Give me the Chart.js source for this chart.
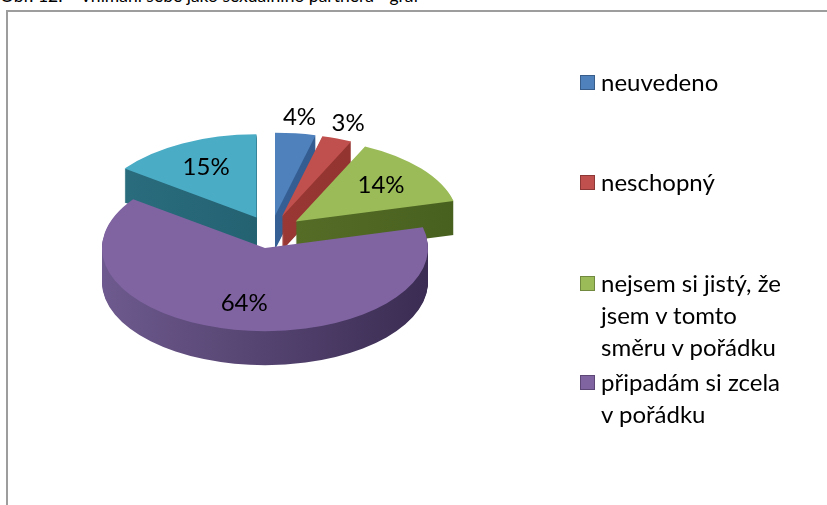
<!DOCTYPE html>
<html lang="cs">
<head>
<meta charset="utf-8">
<script src="https://cdn.jsdelivr.net/npm/chart.js@4.4.1/dist/chart.umd.min.js"></script>
<style>
	html, body { margin: 0; padding: 0; background: #fff; }
	body { width: 827px; height: 505px; position: relative; overflow: hidden; font-family: Lato, 'Open Sans', sans-serif; color: #000; }
	#frame { position: absolute; left: 6px; top: 10px; width: 900px; height: 600px; border: 2px solid #9d9d9d; }
	#title { position: absolute; left: 0; top: -15px; font-size: 17.5px; white-space: pre; }
	#title .rest { position: absolute; left: 80px; top: 0; }
	#pie { position: absolute; left: 0; top: 0; }
	.item { position: absolute; left: 580px; font-size: 24px; line-height: 32px; }
	.item i { position: absolute; left: 0; top: 9px; width: 13px; height: 13px; border: 1px solid; }
	.item span { position: absolute; left: 21px; top: 0; white-space: pre; }
</style>
</head>
<body>
<div id="frame"></div>
<div id="title">Obr. 12:<span class="rest">Vnímání sebe jako sexuálního partnera - graf</span></div>
<canvas id="pie" width="827" height="505"></canvas>
<div id="legend"></div>
<script>
const categories = [
	'neuvedeno',
	'neschopný',
	'nejsem si jistý, že\njsem v tomto\nsměru v pořádku',
	'připadám si zcela\nv pořádku',
	'jiné'
];
const shares = [4, 3, 14, 64, 15];
// only the first four fit into the legend of the original
const legendShown = 4;

const topColors = ['#4f81bd', '#c0504d', '#9bbb59', '#8064a2', '#4bacc6'];
const sideLight = ['#3f6ea6', '#a8403c', '#60782e', '#6e5a8e', '#2b6f80'];
const sideDark = ['#2c5284', '#8a2f2b', '#48601e', '#3a2c52', '#1d5563'];
const legendBorders = ['#385d8a', '#8c3836', '#71893f', '#5c4776', '#357d91'];

const tilt = 0.51;
const depth = 34;
const explode = 32;

const pie3d = {
	id: 'pie3d',
	beforeDatasetsDraw(chart) {
		const ctx = chart.ctx;
		const arcs = chart.getDatasetMeta(0).data;
		const cx = arcs[0].x, cy = arcs[0].y, r = arcs[0].outerRadius;

		const sides = arcs.map((arc, i) => {
			const g = ctx.createLinearGradient(cx - r, 0, cx + r, 0);
			g.addColorStop(0, sideLight[i]);
			g.addColorStop(1, sideDark[i]);
			return g;
		});

		function drawLayer(dy, fills) {
			ctx.save();
			ctx.translate(0, cy + dy);
			ctx.scale(1, tilt);
			ctx.translate(0, -cy);
			arcs.forEach((arc, i) => {
				const mid = (arc.startAngle + arc.endAngle) / 2;
				ctx.save();
				ctx.translate(Math.cos(mid) * explode, Math.sin(mid) * explode);
				const face = Object.create(arc);
				face.options = Object.assign({}, arc.options, {backgroundColor: fills[i], borderWidth: 0, offset: 0});
				face.draw(ctx);
				ctx.restore();
			});
			ctx.restore();
		}

		for (let d = depth; d >= 1; d--) {
			drawLayer(d, sides);
		}
		drawLayer(0, topColors);

		// percentage labels
		ctx.save();
		ctx.font = '24px Lato, sans-serif';
		ctx.fillStyle = '#000';
		ctx.textAlign = 'center';
		ctx.textBaseline = 'middle';
		arcs.forEach((arc, i) => {
			const mid = (arc.startAngle + arc.endAngle) / 2;
			const dist = explode + (shares[i] < 5 ? 1.2 : 0.68) * r;
			const x = cx + Math.cos(mid) * dist;
			const y = cy + Math.sin(mid) * dist * tilt;
			ctx.fillText(shares[i] + '%', x, y);
		});
		ctx.restore();
		return false;
	}
};

new Chart(
	document.getElementById('pie').getContext('2d'),
	{
		type: 'pie',
		data: {
			labels: categories,
			datasets: [{
				data: shares,
				backgroundColor: topColors,
				borderWidth: 0
			}]
		},
		options: {
			responsive: false,
			animation: false,
			layout: {padding: {left: 108, right: 393, top: 69, bottom: 110}},
			plugins: {
				legend: {display: false},
				tooltip: {enabled: false}
			}
		},
		plugins: [pie3d]
	}
);

const legendTops = [66, 166, 267, 366];
const legend = document.getElementById('legend');
for (let i = 0; i < legendShown; i++) {
	const item = document.createElement('div');
	item.className = 'item';
	item.style.top = legendTops[i] + 'px';
	const box = document.createElement('i');
	box.style.background = topColors[i];
	box.style.borderColor = legendBorders[i];
	const text = document.createElement('span');
	text.textContent = categories[i];
	item.appendChild(box);
	item.appendChild(text);
	legend.appendChild(item);
}
</script>
</body>
</html>
